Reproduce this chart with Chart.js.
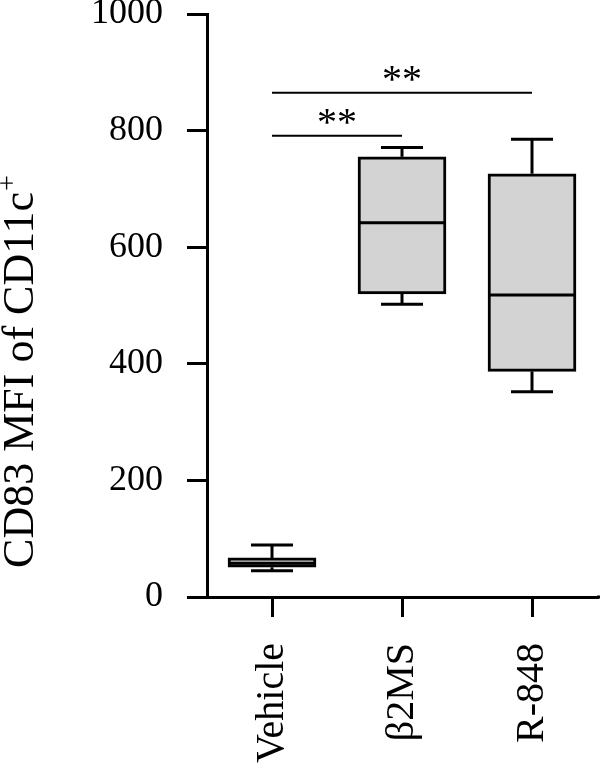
<!DOCTYPE html>
<html>
<head>
<meta charset="utf-8">
<script src="https://cdn.jsdelivr.net/npm/chart.js@4/dist/chart.umd.min.js"></script>
<style>
  html, body { margin: 0; padding: 0; background: #fff; }
  #wrap { width: 600px; height: 769px; position: relative; }
</style>
</head>
<body>
<div id="wrap"><canvas id="c"></canvas></div>
<script>
// ---- data ----
const categories = ['Vehicle', 'β2MS', 'R-848'];
const minVals    = [45, 502, 352];
const q1Vals     = [51, 520, 387];
const medianVals = [58, 642, 518];
const q3Vals     = [67, 755, 726];
const maxVals    = [89, 771, 785];
const yTicks     = [0, 200, 400, 600, 800, 1000];
const yTitle     = 'CD83 MFI of CD11c';
const yTitleSup  = '+';
// significance brackets
const sigFrom  = [0, 0];
const sigTo    = [1, 2];
const sigY     = [791, 865];
const sigLabel = ['**', '**'];

const FONT = '"Liberation Serif", "Times New Roman", serif';

const boxExtras = {
  id: 'boxExtras',
  afterDatasetsDraw(chart) {
    const { ctx, scales: { x, y } } = chart;
    const meta = chart.getDatasetMeta(0);
    ctx.save();
    ctx.strokeStyle = '#000';
    ctx.lineWidth = 3;
    ctx.lineCap = 'butt';
    const seg = (x1, y1, x2, y2) => { ctx.beginPath(); ctx.moveTo(x1, y1); ctx.lineTo(x2, y2); ctx.stroke(); };
    categories.forEach((c, i) => {
      const bar = meta.data[i];
      const cx = x.getPixelForValue(i);
      const half = bar.width / 2;
      const capHalf = 21;
      const yMed = y.getPixelForValue(medianVals[i]);
      const yQ1 = y.getPixelForValue(q1Vals[i]);
      const yQ3 = y.getPixelForValue(q3Vals[i]);
      const yMin = y.getPixelForValue(minVals[i]);
      const yMax = y.getPixelForValue(maxVals[i]);
      seg(cx - half, yMed, cx + half, yMed);
      seg(cx, yQ3, cx, yMax);
      seg(cx, yQ1, cx, yMin);
      seg(cx - capHalf, yMax, cx + capHalf, yMax);
      seg(cx - capHalf, yMin, cx + capHalf, yMin);
    });
    // extend x axis line to the right edge like the reference
    seg(chart.chartArea.right, y.getPixelForValue(0), chart.width, y.getPixelForValue(0));
    // significance brackets
    ctx.lineWidth = 2;
    ctx.fillStyle = '#000';
    ctx.font = '40px ' + FONT;
    ctx.textAlign = 'center';
    ctx.textBaseline = 'alphabetic';
    sigFrom.forEach((f, k) => {
      const x1 = x.getPixelForValue(f);
      const x2 = x.getPixelForValue(sigTo[k]);
      const yy = y.getPixelForValue(sigY[k]);
      seg(x1, yy, x2, yy);
      ctx.fillText(sigLabel[k], (x1 + x2) / 2, yy - 1);
    });
    // y axis title with superscript
    ctx.font = '44px ' + FONT;
    const wm = ctx.measureText(yTitle).width;
    ctx.font = '28px ' + FONT;
    const ws = ctx.measureText(yTitleSup).width;
    const total = wm + 1 + ws;
    const cy = (y.getPixelForValue(0) + y.getPixelForValue(1000)) / 2 + 66;
    ctx.translate(33, cy);
    ctx.rotate(-Math.PI / 2);
    ctx.textAlign = 'left';
    ctx.font = '44px ' + FONT;
    ctx.fillText(yTitle, -total / 2, 0);
    ctx.font = '28px ' + FONT;
    ctx.fillText(yTitleSup, -total / 2 + wm + 1, -17);
    ctx.restore();
  }
};

new Chart(document.getElementById('c'), {
  type: 'bar',
  data: {
    labels: categories,
    datasets: [{
      data: categories.map((c, i) => [q1Vals[i], q3Vals[i]]),
      backgroundColor: '#d3d3d3',
      borderColor: '#000',
      borderWidth: 3,
      borderSkipped: false,
      barThickness: 88
    }]
  },
  options: {
    responsive: true,
    maintainAspectRatio: false,
    animation: false,
    devicePixelRatio: 1,
    layout: { padding: { top: 14, right: 3, left: 0, bottom: 0 } },
    plugins: { legend: { display: false }, tooltip: { enabled: false } },
    scales: {
      x: {
        type: 'category',
        offset: true,
        grid: { offset: false, drawOnChartArea: false, drawTicks: true, tickLength: 20, lineWidth: 3, color: '#000' },
        border: { display: true, color: '#000', width: 3 },
        ticks: {
          color: '#000',
          font: { family: FONT, size: 40 },
          minRotation: 90, maxRotation: 90,
          padding: 26,
          autoSkip: false
        },
        afterFit(scale) { scale.height = 172; scale.paddingLeft = 0; scale.paddingRight = 0; }
      },
      y: {
        min: 0, max: 1000,
        afterBuildTicks(scale) { scale.ticks = yTicks.map(v => ({ value: v })); },
        grid: { drawOnChartArea: false, drawTicks: true, tickLength: 20, lineWidth: 3, color: '#000' },
        border: { display: true, color: '#000', width: 3 },
        ticks: {
          color: '#000',
          font: { family: FONT, size: 36, lineHeight: 0.75 },
          padding: 24,
          callback: (v) => String(v)
        },
        afterFit(scale) { scale.width = 207; scale.paddingTop = 0; scale.paddingBottom = 0; }
      }
    }
  },
  plugins: [boxExtras]
});
</script>
</body>
</html>
